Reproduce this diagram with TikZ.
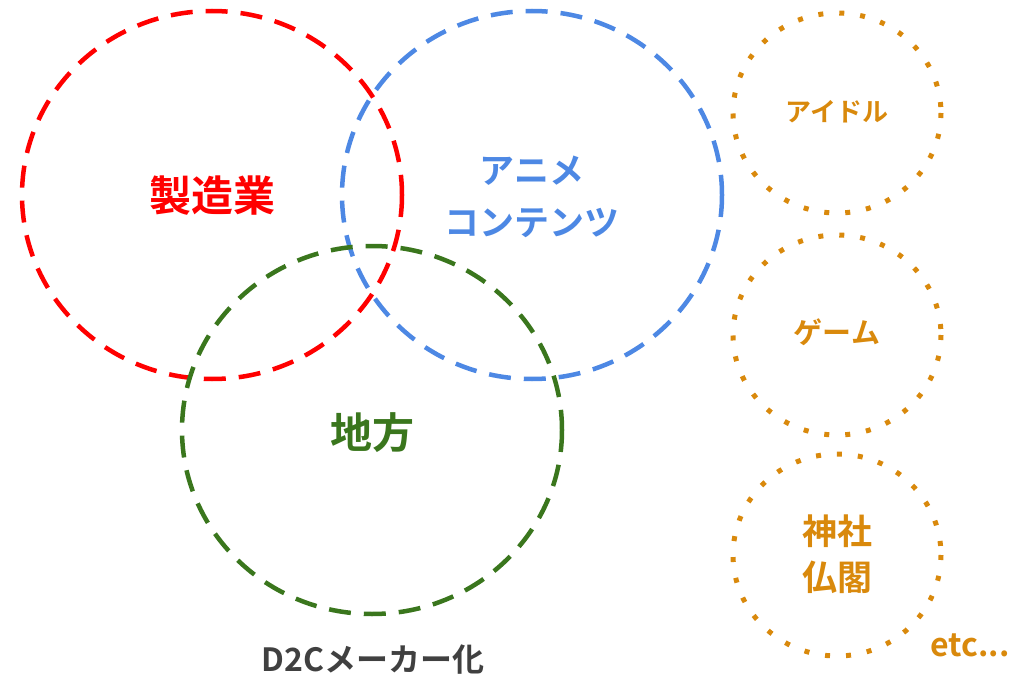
\documentclass[tikz,border=0pt]{standalone}
\usepackage{fontspec}
\setmainfont{Noto Sans CJK JP}[BoldFont={* Bold}]
\definecolor{redc}{HTML}{FF0000}
\definecolor{bluec}{HTML}{4D88E4}
\definecolor{greenc}{HTML}{3A761D}
\definecolor{orangec}{HTML}{D9890C}
\definecolor{grayc}{HTML}{404040}
\tikzset{
  ring/.style={line width=4.5pt, dash pattern=on 22pt off 13pt},
  dotring/.style={draw=orangec, line width=5pt, dash pattern=on 5pt off 16pt},
  lbl/.style={font=\bfseries\fontsize{42}{50}\selectfont, align=center, inner sep=0pt},
  small/.style={font=\bfseries\fontsize{26}{46}\selectfont, text=orangec, align=center, inner sep=0pt}
}
\begin{document}
\begin{tikzpicture}[x=1pt, y=-1pt]
  \useasboundingbox (0,0) rectangle (1026,677);
  \draw[ring, draw=redc] (212,195) ellipse [x radius=190, y radius=184];
  \draw[ring, draw=bluec] (532,195) ellipse [x radius=190, y radius=184];
  \draw[ring, draw=greenc] (372,430) ellipse [x radius=190, y radius=184];
  \draw[dotring] (837,113) ellipse [x radius=104, y radius=100];
  \draw[dotring] (837,335) ellipse [x radius=104, y radius=100];
  \draw[dotring] (837,555) ellipse [x radius=104, y radius=101];
  \node[lbl, text=redc] (mfg) at (212,196) {製造業};
  \node[lbl, text=bluec, font=\bfseries\fontsize{35}{52}\selectfont] (anime) at (532,197) {アニメ\\コンテンツ};
  \node[lbl, text=greenc] (local) at (372,433) {地方};
  \node[small] (idol) at (837,112) {アイドル};
  \node[small, font=\bfseries\fontsize{29}{46}\selectfont] (game) at (837,332) {ゲーム};
  \node[small, font=\bfseries\fontsize{35}{46}\selectfont] (shrine) at (837,554) {神社\\仏閣};
  \node[font=\bfseries\fontsize{32}{36}\selectfont, text=grayc] (d2c) at (373,660) {D2Cメーカー化};
  \node[font=\bfseries\fontsize{32}{36}\selectfont, text=orangec] (etc) at (970,645) {etc...};
\end{tikzpicture}
\end{document}
